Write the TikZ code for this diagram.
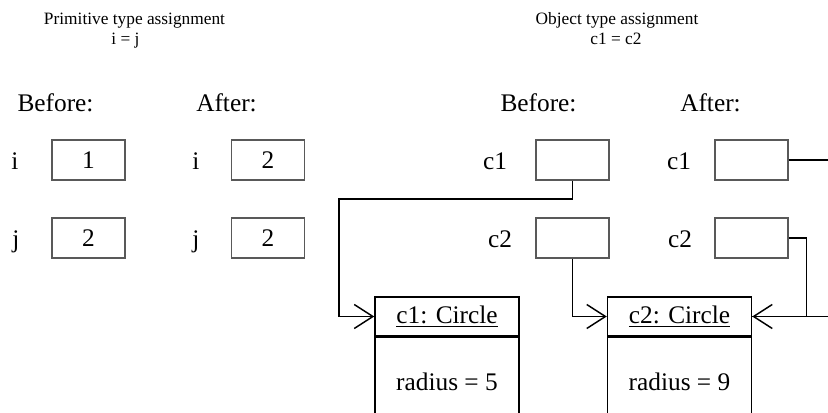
\documentclass[tikz,border=0pt]{standalone}
\usepackage{fontspec}
\setmainfont{Liberation Serif}
\usetikzlibrary{arrows.meta}

\begin{document}
\begin{tikzpicture}[x=0.75pt, y=-0.75pt,
        heading/.style={font=\fontsize{13}{15}\selectfont, anchor=base},
        big/.style={font=\fontsize{19}{22}\selectfont, anchor=base},
        cell/.style={draw=black!65, line width=1.1pt, minimum width=54.75pt, minimum height=30pt, inner sep=0pt, font=\fontsize{19}{22}\selectfont},
        objtitle/.style={draw, line width=1.1pt, minimum width=108pt, minimum height=29.25pt, inner sep=0pt, font=\fontsize{19}{22}\selectfont},
        objbody/.style={draw, line width=1.1pt, minimum width=108pt, minimum height=66pt, inner sep=0pt, anchor=north, font=\fontsize{19}{22}\selectfont},
        wire/.style={line width=1.1pt},
        ref/.style={wire, -{Straight Barb[length=14pt, width=18pt, line width=1.1pt]}}]
        \useasboundingbox (0,0) rectangle (828,413);
        \clip (0,0) rectangle (828,413);
        % Headings of the two halves.
            \node[heading] (primtitle) at (134.5,25) {Primitive type assignment};
            \node[heading] (primstmt) at (125.5,45) {i = j};
            \node[heading] (objtitle) at (617,25) {Object type assignment};
            \node[heading] (objstmt) at (616,45) {c1 = c2};
            \node[big] (primbefore) at (55.5,112) {Before:};
            \node[big] (primafter) at (226.5,112) {After:};
            \node[big] (objbefore) at (538.5,112) {Before:};
            \node[big] (objafter) at (710.5,112) {After:};
        % The variables and their cells.
            \node[big] (ilabb) at (15,170) {i};
            \node[big] (jlabb) at (16,248) {j};
            \node[big] (ilaba) at (196,170) {i};
            \node[big] (jlaba) at (196,248) {j};
            \node[cell] (ib) at (88.5,160) {1};
            \node[cell] (jb) at (88.5,238) {2};
            \node[cell] (ia) at (268,160) {2};
            \node[cell] (ja) at (268,238) {2};
            \node[big] (c1labb) at (495,170) {c1};
            \node[big] (c2labb) at (500,248) {c2};
            \node[big] (c1laba) at (679,170) {c1};
            \node[big] (c2laba) at (680,248) {c2};
            \node[cell] (c1b) at (572.5,160) {};
            \node[cell] (c2b) at (572.5,238) {};
            \node[cell] (c1a) at (751.5,160) {};
            \node[cell] (c2a) at (751.5,238) {};
        % The two Circle objects.
            \node[objtitle] (obj1) at (447,316.5) {\underline{c1: Circle}};
            \node[objbody] (obj1body) at (obj1.south) {radius = 5};
            \node[objtitle] (obj2) at (679.5,316.5) {\underline{c2: Circle}};
            \node[objbody] (obj2body) at (obj2.south) {radius = 9};
        % References from the cells to the objects.
            \coordinate (bend) at (339,199);
            \draw[ref] (c1b.south) |- (bend) |- (obj1.west);
            \draw[ref] (c2b.south) |- (obj2.west);
            \draw[ref] (c1a.east) -- ++(62,0) |- (obj2.east);
            \draw[wire] (c2a.east) -- ++(18,0) |- (obj2.east);
\end{tikzpicture}
\end{document}
